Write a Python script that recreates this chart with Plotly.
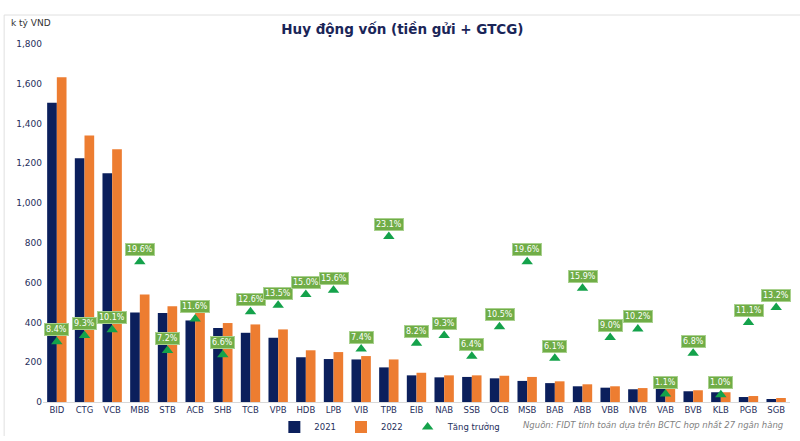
import plotly.graph_objects as go

banks = ["BID", "CTG", "VCB", "MBB", "STB", "ACB", "SHB", "TCB", "VPB", "HDB", "LPB", "VIB", "TPB", "EIB",
         "NAB", "SSB", "OCB", "MSB", "BAB", "ABB", "VBB", "NVB", "VAB", "BVB", "KLB", "PGB", "SGB"]
v2021 = [1505, 1225, 1150, 450, 447, 410, 372, 348, 323, 225, 216, 214, 174, 134,
         124, 126, 119, 106, 95, 79, 72, 64, 69, 54, 49, 25, 15]
v2022 = [1633, 1340, 1271, 541, 481, 458, 397, 390, 365, 260, 251, 231, 214, 147,
         134, 134, 132, 126, 104, 89, 79, 70, 70, 59, 49, 30, 20]
growth = [8.4, 9.3, 10.1, 19.6, 7.2, 11.6, 6.6, 12.6, 13.5, 15.0, 15.6, 7.4, 23.1, 8.2,
          9.3, 6.4, 10.5, 19.6, 6.1, 15.9, 9.0, 10.2, 1.1, 6.8, 1.0, 11.1, 13.2]
yticks = [0, 200, 400, 600, 800, 1000, 1200, 1400, 1600, 1800]

NAVY = "#0b1f5c"
ORANGE = "#ed7d31"
GREEN = "#14a24b"
LABEL_BG = "#70ad47"
TXT = "#1f2f5c"
FONT = "DejaVu Sans"

fig = go.Figure()
fig.add_trace(go.Bar(x=banks, y=v2021, name="2021", marker_color=NAVY,
                     marker_line_width=0))
fig.add_trace(go.Bar(x=banks, y=v2022, name="2022", marker_color=ORANGE,
                     marker_line_width=0))
fig.add_trace(go.Scatter(x=banks, y=growth, name="Tăng trưởng", mode="markers", yaxis="y2",
                         marker=dict(symbol="triangle-up", size=10, color=GREEN)))

for b, g in zip(banks, growth):
    fig.add_annotation(x=b, y=g, xref="x", yref="y2", text=f"{g:.1f}%", showarrow=False,
                       yshift=12, font=dict(family=FONT, size=8, color="white"),
                       bgcolor=LABEL_BG, bordercolor="#a9d18e", borderwidth=1, borderpad=1)

fig.add_annotation(text="k tỷ VND", xref="paper", yref="paper", x=-0.046, y=1.04,
                   xanchor="left", yanchor="bottom", showarrow=False,
                   font=dict(family=FONT, size=9, color="#333333"))
fig.add_annotation(text="<i>Nguồn: FIDT tính toán dựa trên BCTC hợp nhất 27 ngân hàng</i>",
                   xref="paper", yref="paper", x=0.995, y=-0.065, xanchor="right",
                   yanchor="middle", showarrow=False,
                   font=dict(family=FONT, size=8.5, color="#7f7f7f"))

# light frame lines
fig.add_shape(type="line", xref="paper", yref="paper", x0=-0.052, x1=1.02, y0=1.081, y1=1.081,
              line=dict(color="#e0e0e0", width=1))
fig.add_shape(type="line", xref="paper", yref="paper", x0=-0.052, x1=-0.052, y0=1.081, y1=-0.095,
              line=dict(color="#e0e0e0", width=1))

fig.update_layout(
    width=800, height=441,
    margin=dict(l=43, r=10, t=44, b=39, autoexpand=False),
    paper_bgcolor="white", plot_bgcolor="white",
    barmode="group", bargap=0.3, bargroupgap=0.0,
    title=dict(text="<b>Huy động vốn (tiền gửi + GTCG)</b>", x=0.503, xanchor="center",
               y=0.934, yanchor="middle",
               font=dict(family=FONT, size=13.5, color="#1a2558")),
    font=dict(family=FONT, size=9, color=TXT),
    xaxis=dict(showgrid=False, showline=True, linecolor="#d9d9d9", ticks="",
               range=[-0.5, len(banks) - 0.5],
               tickfont=dict(size=8.5, color=TXT), automargin=False),
    yaxis=dict(range=[0, 1800], tickvals=yticks, tickformat=",", showgrid=False,
               zeroline=False, showline=False, tickfont=dict(size=9, color=TXT),
               automargin=False),
    yaxis2=dict(range=[0, 50], overlaying="y", visible=False),
    legend=dict(orientation="h", x=0.465, xanchor="center", y=-0.07, yanchor="middle",
                font=dict(family=FONT, size=8.5, color=TXT), itemwidth=30,
                tracegroupgap=0, bgcolor="rgba(0,0,0,0)"),
    showlegend=True,
)

fig.write_html("out.html", config={"displayModeBar": False},
               post_script="document.body.style.margin='0';")
